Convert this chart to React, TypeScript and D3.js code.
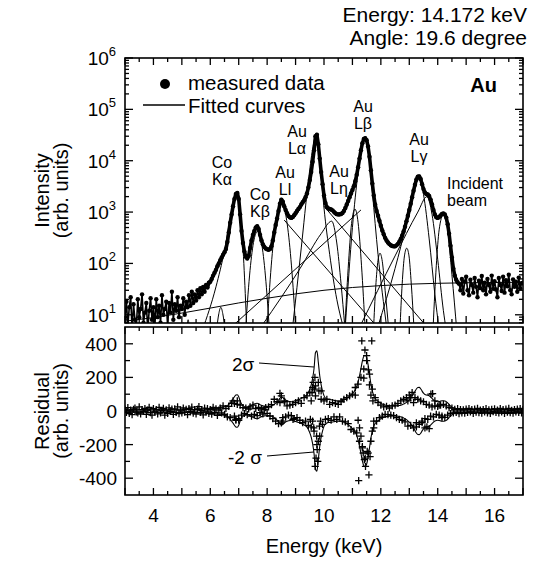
import React from 'react';
import * as d3 from 'd3';

// ---------- DATA ----------
const E_START = 3;
const E_STEP = 0.05;

// measured intensity, one row per keV (k.00 .. k.95), last value at 17.00
const intensityRows: number[][] = [
  [9, 18, 6, 14, 22, 5, 16, 8, 6, 20, 9, 13, 25, 7, 11, 17, 5, 12, 21, 8],
  [14, 6, 20, 9, 15, 7, 24, 10, 13, 18, 6, 17, 11, 28, 8, 16, 12, 22, 9, 15],
  [13, 21, 10, 18, 14, 24, 15, 28, 17, 25, 19, 30, 22, 33, 25, 35, 28, 38, 34, 42],
  [44, 50, 58, 66, 75, 88, 100, 115, 130, 148, 165, 190, 260, 400, 620, 900, 1300, 1800, 2250, 2350],
  [1800, 900, 430, 250, 170, 135, 125, 140, 200, 280, 360, 430, 500, 530, 470, 360, 280, 235, 210, 195],
  [188, 185, 190, 215, 280, 400, 560, 750, 1050, 1450, 1750, 1600, 1300, 1100, 950, 840, 790, 770, 800, 870],
  [950, 1050, 1150, 1250, 1400, 1550, 1700, 1950, 2300, 3000, 4200, 6000, 9500, 16000, 30000, 32000, 21000, 11000, 6000, 3500],
  [2100, 1500, 1250, 1180, 1150, 1120, 1080, 1010, 950, 910, 900, 900, 920, 960, 1050, 1200, 1400, 1650, 1950, 2300],
  [2700, 3200, 4000, 5300, 7500, 11000, 16000, 22000, 26500, 27500, 25000, 19000, 12000, 6500, 3600, 2100, 1400, 1050, 850, 680],
  [540, 440, 370, 315, 280, 255, 238, 226, 218, 215, 215, 225, 240, 265, 300, 350, 420, 520, 660, 850],
  [1100, 1450, 1950, 2600, 3400, 4300, 4900, 4950, 4400, 3500, 2800, 2400, 2250, 2200, 2050, 1750, 1400, 1100, 900, 790],
  [770, 800, 860, 920, 940, 900, 780, 580, 380, 220, 130, 80, 58, 48, 43, 40, 30, 50, 26, 44],
  [55, 30, 24, 48, 38, 27, 52, 35, 22, 46, 33, 57, 30, 42, 25, 50, 38, 28, 58, 32],
  [45, 31, 22, 52, 38, 29, 55, 27, 47, 36, 60, 30, 25, 49, 35, 44, 28, 53, 33, 41],
  [42],
];

// residuals on the same energy grid
const residualRows: number[][] = [
  [12, -8, 20, -15, 5, -22, 10, 18, -5, -12, 25, -18, 8, -3, 15, -20, 6, 22, -10, -25],
  [14, -6, 9, -17, 21, -11, 3, 16, -24, 7, -14, 19, -2, 11, -20, 13, -8, 24, -16, 5],
  [-12, 18, -7, 10, -21, 15, -4, 23, -13, 8, -18, 12, 26, -9, 4, -23, 17, -6, 14, -15],
  [9, -19, 22, -8, 13, -26, 6, 18, -12, 30, -20, 15, -35, 28, -40, 45, 60, -30, -55, 40],
  [-45, 35, -25, 20, -15, 18, -22, 12, 25, -30, 35, -20, 15, -28, 22, -10, 14, -18, 8, 20],
  [-14, 24, -30, 38, -45, 70, -60, 55, -75, 50, 90, -40, 60, -35, 30, -25, 35, -28, 40, -45],
  [50, -40, 60, -55, 45, -70, 80, -60, 90, -85, 110, -95, 140, -120, 150, -200, 170, -150, 120, -80],
  [60, -50, 70, -45, 40, -55, 50, -35, 45, -50, 40, -35, 55, -60, 70, -65, 80, -75, 90, -110],
  [100, -120, 140, -130, 160, -180, 200, -220, 250, -280, 300, -250, 220, -180, 130, -100, 80, -60, 50, -40],
  [35, -30, 25, -20, 28, -22, 18, -25, 30, -28, 35, -40, 45, -50, 60, -55, 70, -65, 80, -90],
  [95, -85, 110, -100, 80, -95, 70, -80, 60, -70, 55, -45, 40, -50, 35, -30, 25, -35, 30, -20],
  [28, -24, 35, -30, 40, -38, 30, -25, 20, -15, 18, -12, 10, -8, 14, -16, 9, -11, 7, -13],
  [12, -9, 15, -6, 8, -14, 11, -7, 16, -10, 5, -13, 9, -5, 14, -11, 7, -15, 10, -4],
  [13, -8, 6, -12, 15, -5, 9, -14, 11, -7, 16, -10, 4, -13, 8, -6, 12, -9, 15, -11],
  [8],
];

// additional residual points near the peaks
const residualExtraE = [
  6.85, 6.9, 6.95, 7.0, 8.45, 8.5, 8.55, 8.62, 8.91,
  9.52, 9.55, 9.58, 9.6, 9.62, 9.64, 9.66, 9.68, 9.69, 9.7, 9.72, 9.74, 9.76, 9.78, 9.8, 9.82, 9.84, 9.88, 9.9,
  11.1, 11.2, 11.22, 11.25, 11.3, 11.33, 11.35, 11.38, 11.4, 11.42, 11.44, 11.46, 11.5, 11.52, 11.56, 11.58, 11.6, 11.62, 11.65, 11.68, 11.7, 11.72, 11.75,
  12.95, 13.05, 13.15, 13.25, 13.45, 13.55, 13.62, 13.7, 13.76, 13.82, 13.9, 14.05, 14.15,
];
const residualExtraR = [
  45, -50, 60, -55, 105, -71, -60, 55, -50,
  -50, 60, 110, -60, 170, -100, 130, 200, -330, 90, -280, -150, -230, -300, -180, 120, -90, -60, 70,
  95, -55, -415, -100, -150, 418, -212, -250, 196, -290, 363, -330, 330, -240, 245, -380, 155, -272, 95, 418, -120, 60, -60,
  60, 80, 50, -70, -60, -100, -95, -105, 100, 104, 60, 35, -40,
];

// fitted components, [energy keV, intensity]
const peakTinyA = [[5.0, 5], [5.05, 7], [5.1, 5]];
const peakTinyB = [[5.17, 5], [5.22, 8], [5.27, 5]];
const peak637 = [[6.22, 5], [6.3, 10.5], [6.37, 14], [6.44, 10.5], [6.52, 5]];
const coKa = [[5.72, 5], [6.2, 35], [6.5, 180], [6.7, 750], [6.83, 1800], [6.93, 2300], [7.03, 1400], [7.13, 310], [7.23, 26], [7.33, 1]];
const coKb = [[7.1, 0.14], [7.24, 4.7], [7.38, 57], [7.52, 255], [7.66, 420], [7.8, 255], [7.94, 57], [8.08, 4.7], [8.22, 0.14]];
const auLl = [[7.9, 0.5], [8.05, 16.7], [8.2, 203], [8.35, 910], [8.5, 1500], [8.65, 910], [8.8, 203], [8.95, 16.7], [9.1, 0.5]];
const auLa = [[8.9, 6], [9.2, 200], [9.45, 4000], [9.6, 17000], [9.72, 31000], [9.85, 10000], [10.0, 1200], [10.2, 150], [10.45, 20], [10.67, 6]];
const auLeta = [[7.83, 6.3], [9.16, 80], [9.9, 380], [10.27, 665], [10.45, 250], [10.6, 40], [10.73, 6]];
const peak1109 = [[10.73, 5], [10.85, 80], [10.97, 600], [11.09, 1140], [11.2, 620], [11.32, 90], [11.45, 5]];
const auLb = [[10.75, 6], [11.0, 500], [11.2, 6000], [11.33, 18000], [11.45, 27000], [11.57, 15000], [11.7, 2500], [11.9, 150], [12.2, 6]];
const peak1197 = [[11.74, 5], [11.82, 35], [11.9, 115], [11.97, 158], [12.05, 110], [12.15, 30], [12.28, 5]];
const peak1291 = [[12.67, 5], [12.75, 40], [12.83, 140], [12.91, 198], [12.99, 140], [13.07, 40], [13.17, 5]];
const auLg1 = [[11.9, 6], [12.5, 80], [12.9, 600], [13.15, 2500], [13.34, 4500], [13.5, 2200], [13.7, 300], [13.9, 25], [14.05, 5]];
const auLg3 = [[11.27, 6], [12.5, 140], [13.3, 1000], [13.62, 2000], [13.8, 900], [14.0, 120], [14.2, 12], [14.3, 5]];
const incidentBeam = [[13.84, 6], [13.95, 90], [14.05, 450], [14.2, 900], [14.35, 450], [14.5, 60], [14.67, 5]];
const tailA = [[6.7, 5.5], [11.3, 1100]];
const tailB = [[8.6, 700], [11.85, 6]];
const tailC = [[10.0, 1300], [13.6, 6]];
const backgroundE = [3, 4, 5, 6, 7, 8, 9, 10, 11, 12, 13, 14, 15, 16, 17];
const backgroundV = [7.5, 8.8, 10.8, 13.5, 17, 21, 25.5, 30, 34, 37, 39.5, 41, 42, 42.5, 43];

const peakComponents = [peakTinyA, peakTinyB, peak637, coKa, coKb, auLl, auLa, auLeta, peak1109, auLb, peak1197, peak1291, auLg1, auLg3, incidentBeam];
const tailComponents = [tailA, tailB, tailC];

const xTickLabels = [4, 6, 8, 10, 12, 14, 16];
const logDecades = [1, 2, 3, 4, 5, 6];
const residualTickLabels = [400, 200, 0, -200, -400];

const peakLabelTop = ['Co', 'Co', 'Au', 'Au', 'Au', 'Au', 'Au', 'Incident'];
const peakLabelBottom = ['K\u03b1', 'K\u03b2', 'Ll', 'L\u03b1', 'L\u03b7', 'L\u03b2', 'L\u03b3', 'beam'];

// layout for annotations (pixels)
const peakLabelPos = [
  [222, 168, 'middle'], [260, 200, 'middle'], [285, 178, 'middle'], [297, 137, 'middle'],
  [339, 177, 'middle'], [363, 112, 'middle'], [419, 145, 'middle'], [447, 189, 'start'],
];

const FONT = "'Liberation Sans', Arial, Helvetica, sans-serif";

export default function App() {
  const W = 534, H = 563;
  const L = 125, R = 523, T1 = 58, B1 = 323, T2 = 327, B2 = 495;

  const x = d3.scaleLinear().domain([3, 17]).range([L, R]);
  const yT = d3.scaleLog().domain([Math.pow(10, 0.84), 1e6]).range([B1, T1]);
  const yB = d3.scaleLinear().domain([-500, 500]).range([B2, T2]);

  const intensity = intensityRows.flat();
  const residual = residualRows.flat();
  const energies = intensity.map((_, i) => E_START + i * E_STEP);

  const compLine = d3.line<number[]>()
    .x(d => x(d[0]))
    .y(d => yT(Math.max(d[1], 1e-3)))
    .curve(d3.curveMonotoneX);
  const straightLine = d3.line<number[]>()
    .x(d => x(d[0]))
    .y(d => yT(d[1]));
  const bgPts = backgroundE.map((e, i) => [e, backgroundV[i]]);

  const dataPts = energies.map((e, i) => [e, intensity[i]]);
  const peakDataLine = d3.line<number[]>()
    .defined(d => d[0] >= 5.9 && d[0] <= 14.76)
    .x(d => x(d[0]))
    .y(d => yT(d[1]));
  const allDataLine = d3.line<number[]>()
    .x(d => x(d[0]))
    .y(d => yT(Math.max(d[1], 1)));

  const sigPlus = energies.map((e, i) => [e, 2 * Math.sqrt(intensity[i])]);
  const sigMinus = energies.map((e, i) => [e, -2 * Math.sqrt(intensity[i])]);
  const sigLine = d3.line<number[]>()
    .x(d => x(d[0]))
    .y(d => yB(d[1]))
    .curve(d3.curveMonotoneX);

  const resPts = energies.map((e, i) => [e, residual[i]])
    .concat(residualExtraE.map((e, i) => [e, residualExtraR[i]]));

  const xTicks = d3.range(3, 17.001, 0.5);
  const logTicks: { v: number; major: boolean }[] = [];
  for (let d = 0; d <= 6; d++) {
    for (let m = 1; m <= 9; m++) {
      const v = m * Math.pow(10, d);
      if (v >= Math.pow(10, 0.84) && v <= 1e6) logTicks.push({ v, major: m === 1 });
    }
  }
  const resTicks = d3.range(-400, 401, 100);

  const tickStroke = { stroke: '#000', strokeWidth: 1.3 };
  const cs = 3.6; // cross half size

  return (
    <svg width={W} height={H} viewBox={`0 0 ${W} ${H}`}
      style={{ position: 'absolute', left: 0, top: 0, background: '#fff' }}
      fontFamily={FONT}>
      <defs>
        <clipPath id="clipTop"><rect x={L} y={T1} width={R - L} height={B1 - T1} /></clipPath>
        <clipPath id="clipBot"><rect x={L} y={T2} width={R - L} height={B2 - T2} /></clipPath>
      </defs>
      <rect x={0} y={0} width={W} height={H} fill="#fff" />

      {/* Title */}
      <text x={527} y={22} fontSize={21} textAnchor="end">Energy: 14.172 keV</text>
      <text x={527} y={45} fontSize={21} textAnchor="end">Angle: 19.6 degree</text>

      {/* ---- Top panel ---- */}
      <g clipPath="url(#clipTop)">
        <path d={straightLine(bgPts) || ''} fill="none" stroke="#000" strokeWidth={1} />
        {peakComponents.map((c, i) => (
          <path key={'pc' + i} d={compLine(c) || ''} fill="none" stroke="#000" strokeWidth={1} />
        ))}
        {tailComponents.map((c, i) => (
          <path key={'tc' + i} d={straightLine(c) || ''} fill="none" stroke="#000" strokeWidth={1} />
        ))}
        <path d={allDataLine(dataPts) || ''} fill="none" stroke="#000" strokeWidth={1.6} strokeLinejoin="round" />
        <path d={peakDataLine(dataPts) || ''} fill="none" stroke="#000" strokeWidth={3.6} strokeLinejoin="round" />
        {dataPts.map((d, i) => (
          <circle key={'dp' + i} cx={x(d[0])} cy={yT(Math.max(d[1], 1))} r={2.2} fill="#000" />
        ))}
      </g>
      <rect x={L} y={T1} width={R - L} height={B1 - T1} fill="none" stroke="#000" strokeWidth={1.6} />
      {xTicks.map((t, i) => {
        const len = Number.isInteger(t) ? 7 : 4;
        return (
          <g key={'xt1' + i}>
            <line x1={x(t)} x2={x(t)} y1={T1} y2={T1 + len} {...tickStroke} />
            <line x1={x(t)} x2={x(t)} y1={B1} y2={B1 - len} {...tickStroke} />
          </g>
        );
      })}
      {logTicks.map((t, i) => {
        const len = t.major ? 8 : 4;
        const yy = yT(t.v);
        return (
          <g key={'lt' + i}>
            <line x1={L} x2={L + len} y1={yy} y2={yy} {...tickStroke} />
            <line x1={R} x2={R - len} y1={yy} y2={yy} {...tickStroke} />
          </g>
        );
      })}
      {logDecades.map(d => (
        <text key={'ld' + d} x={116} y={yT(Math.pow(10, d)) + 7} fontSize={19} textAnchor="end">
          10<tspan dy={-9} fontSize={13}>{d}</tspan>
        </text>
      ))}

      {/* Legend */}
      <circle cx={165} cy={84} r={5} fill="#000" />
      <text x={188} y={90} fontSize={20.5}>measured data</text>
      <line x1={143} x2={185} y1={105} y2={105} stroke="#000" strokeWidth={1.3} />
      <text x={188} y={113} fontSize={20.5}>Fitted curves</text>
      <text x={497} y={92} fontSize={20} fontWeight="bold" textAnchor="end">Au</text>

      {/* Peak labels */}
      {peakLabelTop.map((s, i) => {
        const p = peakLabelPos[i];
        return (
          <text key={'pl' + i} fontSize={16} textAnchor={p[2] as any}>
            <tspan x={p[0] as number} y={p[1] as number}>{s}</tspan>
            <tspan x={p[0] as number} y={(p[1] as number) + 16.5}>{peakLabelBottom[i]}</tspan>
          </text>
        );
      })}

      {/* ---- Bottom panel ---- */}
      <g clipPath="url(#clipBot)">
        <path d={sigLine(sigPlus) || ''} fill="none" stroke="#000" strokeWidth={1.1} />
        <path d={sigLine(sigMinus) || ''} fill="none" stroke="#000" strokeWidth={1.1} />
        {resPts.map((d, i) => {
          const cx = x(d[0]), cy = yB(d[1]);
          return (
            <path key={'rp' + i} d={`M${cx - cs},${cy}H${cx + cs}M${cx},${cy - cs}V${cy + cs}`}
              stroke="#000" strokeWidth={1.3} fill="none" />
          );
        })}
      </g>
      <rect x={L} y={T2} width={R - L} height={B2 - T2} fill="none" stroke="#000" strokeWidth={1.6} />
      {xTicks.map((t, i) => {
        const len = Number.isInteger(t) ? 7 : 4;
        return (
          <g key={'xt2' + i}>
            <line x1={x(t)} x2={x(t)} y1={T2} y2={T2 + len} {...tickStroke} />
            <line x1={x(t)} x2={x(t)} y1={B2} y2={B2 - len} {...tickStroke} />
          </g>
        );
      })}
      {resTicks.map((t, i) => {
        const len = t % 200 === 0 ? 8 : 5;
        const yy = yB(t);
        return (
          <g key={'rt' + i}>
            <line x1={L} x2={L + len} y1={yy} y2={yy} {...tickStroke} />
            <line x1={R} x2={R - len} y1={yy} y2={yy} {...tickStroke} />
          </g>
        );
      })}
      {residualTickLabels.map(t => (
        <text key={'rl' + t} x={117} y={yB(t) + 7} fontSize={19} textAnchor="end">{t}</text>
      ))}

      {/* sigma annotations */}
      <text x={232} y={371} fontSize={19}>2σ</text>
      <line x1={259} y1={363} x2={314} y2={367} stroke="#000" strokeWidth={1.1} />
      <text x={228} y={464} fontSize={19}>-2 σ</text>
      <line x1={267} y1={456} x2={314} y2={452} stroke="#000" strokeWidth={1.1} />

      {/* x tick labels */}
      {xTickLabels.map(t => (
        <text key={'xl' + t} x={x(t)} y={522} fontSize={19} textAnchor="middle">{t}</text>
      ))}
      <text x={(L + R) / 2} y={553} fontSize={20} textAnchor="middle">Energy (keV)</text>

      {/* y titles */}
      <text transform={`translate(49,${(T1 + B1) / 2}) rotate(-90)`} fontSize={20} textAnchor="middle">Intensity</text>
      <text transform={`translate(68,${(T1 + B1) / 2}) rotate(-90)`} fontSize={20} textAnchor="middle">(arb. units)</text>
      <text transform={`translate(49,${(T2 + B2) / 2}) rotate(-90)`} fontSize={20} textAnchor="middle">Residual</text>
      <text transform={`translate(68,${(T2 + B2) / 2}) rotate(-90)`} fontSize={20} textAnchor="middle">(arb. units)</text>
    </svg>
  );
}
